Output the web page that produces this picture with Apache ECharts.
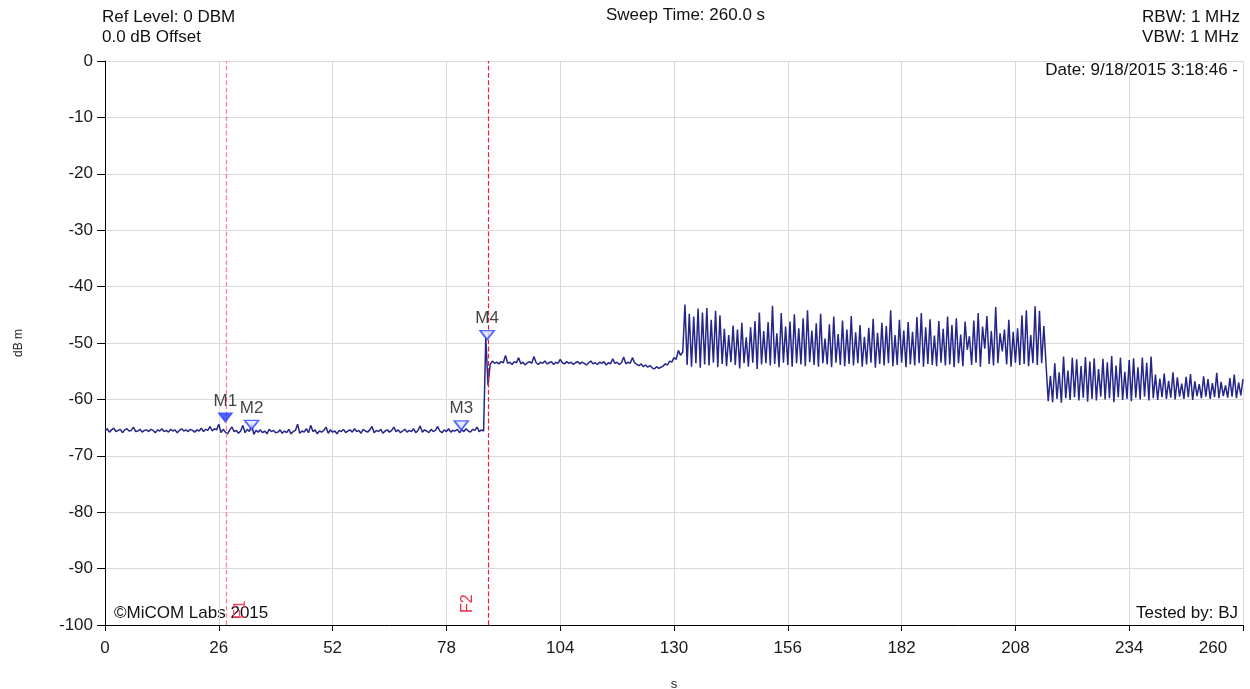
<!DOCTYPE html>
<html><head><meta charset="utf-8">
<script src="https://cdn.jsdelivr.net/npm/echarts@6/dist/echarts.min.js"></script>
<style>html,body{margin:0;padding:0;background:#fff;overflow:hidden}#c{width:1250px;height:689px}</style>
</head><body><div id="c"></div>
<script>
// Sweep samples: one value every 0.5 s starting at 0 s
const sampleStart = 0;
const sampleStep = 0.5;
// 0 .. 86.5 s
const traceQuiet = [
-65.6,-65.2,-65.8,-65.4,-65.1,-65.7,-65.5,-65.3,-65.9,-65.4,-65.2,-65.6,-65.5,-64.9,-65.7,-65.6,-65.3,-65.8,-65.5,-65.4,
-65.7,-65.3,-65.5,-65.9,-65.4,-65.6,-65.2,-65.7,-65.5,-65.8,-65.3,-65.6,-65.4,-65.9,-65.5,-65.2,-65.6,-65.4,-65.7,-65.3,
-65.5,-65.8,-65.4,-65.6,-65.1,-65.7,-65.3,-65.5,-64.8,-65.6,-65.2,-65.4,-64.4,-65.9,-65.3,-65.8,-66.1,-65.4,-64.9,-65.7,
-65.5,-66.0,-65.6,-64.6,-65.9,-65.3,-65.7,-64.5,-66.2,-65.5,-65.8,-65.4,-65.9,-65.6,-66.1,-65.3,-65.7,-65.5,-65.9,-65.8,
-65.4,-66.0,-65.6,-65.9,-65.3,-66.1,-65.7,-65.5,-64.4,-66.0,-65.6,-65.8,-65.2,-65.9,-64.6,-65.7,-65.4,-66.1,-65.6,-65.8,
-65.5,-64.9,-66.0,-65.4,-65.8,-65.6,-66.1,-65.5,-65.7,-65.3,-65.9,-65.6,-65.4,-65.8,-65.2,-65.7,-65.5,-66.0,-65.3,-65.6,
-65.8,-65.4,-64.8,-65.9,-65.5,-65.7,-65.3,-66.0,-65.6,-65.4,-65.8,-65.5,-64.9,-65.7,-65.4,-65.9,-65.6,-65.3,-65.8,-65.5,
-65.7,-65.2,-65.9,-65.5,-64.7,-65.8,-65.4,-65.6,-65.9,-65.3,-65.7,-65.5,-64.8,-65.6,-65.9,-65.4,-65.7,-65.2,-65.8,-65.5,
-65.6,-65.3,-65.9,-65.4,-65.7,-65.2,-65.6,-65.8,-65.3,-65.5,-64.9,-65.7,-65.4,-65.6
];
// 87 .. 131.5 s
const traceStep = [
-49.0,-57.5,-53.8,-53.2,-53.6,-53.4,-53.7,-53.3,-53.5,-52.2,-53.6,-53.4,-53.8,-53.3,-53.5,-52.6,-53.7,-53.4,-53.9,-53.5,
-53.3,-53.6,-52.4,-53.5,-53.8,-53.4,-53.6,-53.2,-53.7,-53.5,-53.3,-53.8,-53.4,-53.6,-52.9,-53.5,-53.7,-53.3,-53.6,-53.4,
-53.8,-53.5,-53.3,-53.7,-53.4,-53.6,-53.9,-53.5,-53.2,-53.7,-53.5,-53.8,-53.4,-53.6,-53.3,-53.9,-53.5,-53.7,-52.8,-53.6,
-53.4,-53.8,-53.5,-52.5,-53.7,-53.4,-53.6,-52.6,-53.5,-53.8,-54.0,-53.7,-54.2,-53.9,-54.3,-54.0,-54.4,-54.6,-54.2,-54.5,
-54.3,-54.1,-53.7,-53.9,-53.2,-53.4,-52.6,-52.9,-51.3,-52.2
];
// 132 .. 215 s
const traceBurstHigh = [
-51.6,-43.2,-53.9,-44.8,-54.2,-45.3,-53.6,-43.9,-54.4,-44.6,-53.8,-43.8,-54.0,-45.9,-53.5,-44.3,-54.3,-45.1,-53.7,-47.5,
-54.1,-48.6,-53.4,-46.9,-53.9,-47.6,-54.5,-46.4,-53.6,-49.0,-54.2,-47.2,-53.5,-46.1,-54.6,-44.6,-53.8,-47.9,-53.6,-46.3,
-54.0,-43.4,-53.7,-48.3,-54.3,-44.7,-53.5,-47.1,-53.9,-46.2,-54.2,-44.9,-53.6,-47.4,-53.8,-45.6,-54.1,-44.2,-53.4,-47.8,
-53.9,-46.5,-54.2,-44.8,-53.6,-49.2,-53.8,-46.7,-54.3,-45.3,-53.5,-48.4,-53.9,-46.0,-54.1,-47.6,-53.7,-45.2,-54.0,-48.1,
-53.6,-46.8,-54.2,-48.9,-53.8,-47.3,-53.5,-45.7,-54.4,-48.2,-53.7,-46.4,-54.0,-47.0,-53.6,-44.2,-54.1,-48.6,-53.9,-45.9,
-53.5,-47.8,-54.3,-46.3,-53.8,-48.0,-54.0,-45.4,-53.6,-44.7,-54.2,-47.2,-53.7,-45.8,-53.9,-48.7,-54.1,-46.1,-53.5,-47.5,
-54.0,-45.3,-53.8,-46.8,-54.3,-45.6,-53.6,-48.5,-54.1,-46.2,-51.2,-48.8,-53.9,-46.0,-53.5,-44.7,-54.2,-47.1,-51.0,-45.2,
-53.7,-47.9,-54.0,-43.6,-53.6,-48.3,-51.5,-47.6,-53.8,-45.9,-54.2,-48.0,-53.5,-47.4,-53.9,-45.1,-53.7,-44.2,-54.1,-48.6,
-53.6,-43.5,-53.9,-44.3,-53.6,-47.0,-53.8
];
// 215.5 .. 260 s
const traceBurstLow = [
-60.3,-55.8,-60.5,-53.6,-59.9,-55.2,-60.6,-52.4,-59.8,-54.9,-60.1,-52.6,-59.6,-52.9,-60.2,-54.1,-59.7,-52.5,-60.4,-53.3,
-59.9,-52.7,-60.2,-54.6,-59.5,-52.8,-60.0,-53.4,-59.8,-52.3,-60.5,-54.0,-59.6,-52.6,-60.1,-55.1,-59.9,-53.0,-60.3,-52.7,
-59.7,-54.3,-60.0,-52.6,-59.5,-53.5,-60.2,-52.4,-59.8,-55.6,-60.1,-56.3,-59.6,-55.4,-59.9,-56.7,-59.7,-55.2,-60.0,-56.1,
-59.5,-57.2,-59.9,-56.0,-59.6,-55.5,-60.1,-56.8,-59.4,-57.3,-59.8,-55.9,-59.5,-56.4,-59.9,-57.1,-59.6,-55.3,-59.8,-56.9,
-59.4,-57.5,-59.7,-56.2,-59.5,-55.6,-59.8,-57.0,-59.3,-56.4
];

const markerNames = ['M1', 'M2', 'M3', 'M4'];
const markerTimes = [27.5, 33.5, 81.4, 87.3];
const markerLevels = [-63.2, -64.5, -64.6, -48.6];

const freqLineNames = ['F1', 'F2'];
const freqLineTimes = [27.7, 87.5];

const xTicks = [0, 26, 52, 78, 104, 130, 156, 182, 208, 234, 260];
const yTicks = [0, -10, -20, -30, -40, -50, -60, -70, -80, -90, -100];

const headerLeft = ['Ref Level: 0 DBM', '0.0 dB Offset'];
const headerCenter = 'Sweep Time: 260.0 s';
const headerRight = ['RBW: 1 MHz', 'VBW: 1 MHz'];
const dateText = 'Date: 9/18/2015 3:18:46 -';
const copyrightText = '\u00A9MiCOM Labs 2015';
const testedText = 'Tested by: BJ';

const allValues = traceQuiet.concat(traceStep, traceBurstHigh, traceBurstLow);
const traceData = allValues.map((v, i) => [sampleStart + i * sampleStep, v]);

const FONT = '"Liberation Sans", Arial, sans-serif';
const chart = echarts.init(document.getElementById('c'), null, { renderer: 'canvas', width: 1250, height: 689 });
const xMax = xTicks[xTicks.length - 1];

chart.setOption({
  animation: false,
  backgroundColor: '#ffffff',
  textStyle: { fontFamily: FONT },
  grid: { left: 105, right: 7, top: 61, bottom: 64, containLabel: false, outerBoundsMode: 'none' },
  xAxis: {
    type: 'value', min: xTicks[0], max: xMax, interval: 26,
    name: 's', nameLocation: 'middle', nameGap: 53,
    nameTextStyle: { color: '#222', fontSize: 13, fontFamily: FONT },
    axisLine: { onZero: false, lineStyle: { color: '#000', width: 1 } },
    axisTick: { show: true, length: 6, lineStyle: { color: '#000' } },
    axisLabel: {
      color: '#1a1a1a', fontSize: 17, fontFamily: FONT, margin: 15,
      formatter: v => (v === xMax ? '{last|' + v + '}' : String(v)),
      rich: { last: { fontSize: 17, fontFamily: FONT, color: '#1a1a1a', padding: [0, 60, 0, 0] } }
    },
    splitLine: { show: true, lineStyle: { color: '#d9d9d9', width: 1 } }
  },
  yAxis: {
    type: 'value', min: yTicks[yTicks.length - 1], max: yTicks[0], interval: 10,
    name: 'dB m', nameLocation: 'middle', nameGap: 80, nameRotate: 90,
    nameTextStyle: { color: '#222', fontSize: 12, fontFamily: FONT },
    axisLine: { show: true, onZero: false, lineStyle: { color: '#000', width: 1 } },
    axisTick: { show: true, length: 8, lineStyle: { color: '#000' } },
    axisLabel: { color: '#1a1a1a', fontSize: 17, fontFamily: FONT, margin: 12 },
    splitLine: { show: true, lineStyle: { color: '#d9d9d9', width: 1 } }
  },
  series: [
    {
      type: 'line', data: traceData, showSymbol: false, symbol: 'none',
      lineStyle: { color: '#26268a', width: 1.5 },
      z: 3,
      markLine: {
        silent: true, symbol: ['none', 'none'], animation: false,
        lineStyle: { color: '#f0304f', type: 'dashed', width: 1 },
        data: [
          { xAxis: freqLineTimes[0], name: freqLineNames[0],
            lineStyle: { color: '#ff7c98', type: 'dashed', width: 1.2 },
            label: { show: true, formatter: freqLineNames[0], position: 'insideStartBottom', distance: 6, color: '#ff4868', fontSize: 16, fontFamily: FONT } },
          { xAxis: freqLineTimes[1], name: freqLineNames[1],
            lineStyle: { color: '#ee1c3c', type: 'dashed', width: 1.2 },
            label: { show: true, formatter: freqLineNames[1], position: 'insideStartTop', distance: 12, color: '#ee2a4a', fontSize: 16, fontFamily: FONT } }
        ]
      }
    },
    {
      type: 'scatter', z: 5,
      data: markerNames.map((n, i) => ({
        name: n, value: [markerTimes[i], markerLevels[i]],
        itemStyle: i === 0 ? { color: '#1f3cff', borderColor: '#1f3cff', borderWidth: 1 }
                           : { color: '#dfe4ff', borderColor: '#2a44ff', borderWidth: 1.6 }
      })),
      symbol: 'triangle', symbolRotate: 180, symbolSize: [14, 9],
      label: { show: true, position: 'top', distance: 3, formatter: p => p.name, color: '#111', fontSize: 17, fontFamily: FONT }
    }
  ],
  graphic: [
    { type: 'text', left: 102, top: 7, style: { text: headerLeft.join('\n'), font: '17px ' + FONT, fill: '#111', lineHeight: 20 } },
    { type: 'text', left: 606, top: 7, style: { text: headerCenter, font: '17px ' + FONT, fill: '#111' } },
    { type: 'text', right: 10, top: 7, style: { text: headerRight.join('\n'), font: '17px ' + FONT, fill: '#111', align: 'right', lineHeight: 20 } },
    { type: 'text', right: 12, top: 62, style: { text: dateText, font: '17px ' + FONT, fill: '#111' } },
    { type: 'text', left: 114, top: 605, style: { text: copyrightText, font: '17px ' + FONT, fill: '#111' } },
    { type: 'text', right: 12, top: 605, style: { text: testedText, font: '17px ' + FONT, fill: '#111' } }
  ]
});
</script>
</body></html>
